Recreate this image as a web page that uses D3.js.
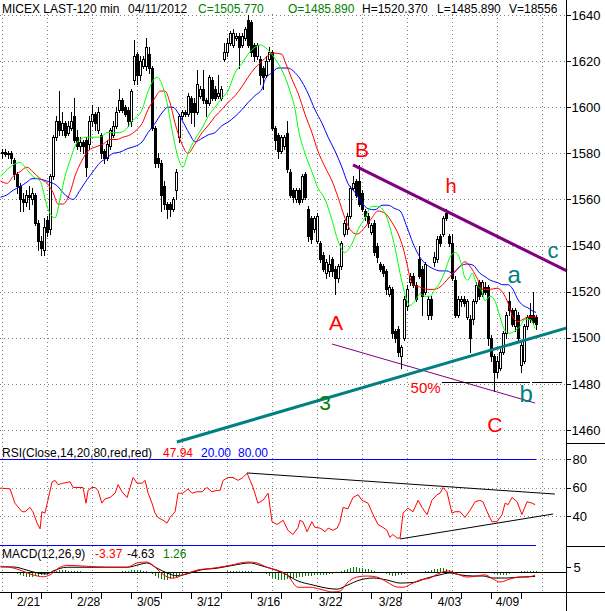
<!DOCTYPE html>
<html><head><meta charset="utf-8">
<script src="https://cdn.jsdelivr.net/npm/d3@7/dist/d3.min.js"></script>
<style>body{margin:0;background:#fff}svg{display:block;font-family:"Liberation Sans",Arial,sans-serif}</style>
</head><body>
<svg id="c" width="605" height="611"></svg>
<script>
// ---------- DATA ----------
// OHLC per 120-min bar: [open, high, low, close]
const candles = [
[1580,1582,1578,1580.5],[1580.5,1582,1579,1579.5],[1579.5,1581,1578,1580],[1580,1581,1576,1578],
[1577,1578,1569,1571],[1571,1572,1563,1566],[1566,1567,1555,1560],[1560,1563,1555,1559],
[1559,1564,1557,1562],[1562,1566,1556,1561],[1560,1565,1558,1563],[1562,1563,1549,1550],
[1550,1551,1538,1542],[1542,1544,1536,1539],[1538,1552,1536,1548],[1551,1553,1544,1546],
[1547,1571,1545,1570],[1570,1588,1569,1587],[1587,1596,1586,1594],[1594,1607,1588,1590],
[1590,1598,1588,1593],[1593,1594,1587,1588],[1589,1594,1588,1592],[1591,1598,1590,1594],
[1596,1604,1585,1586],[1587,1590,1582,1583],[1583,1587,1581,1585],[1585,1586,1580,1583],
[1586,1587,1570,1574],[1584,1596,1582,1594],[1594,1601,1592,1597],[1597,1598,1590,1593],
[1590,1600,1589,1598],[1588,1589,1578,1580],[1581,1582,1576,1578],[1578,1586,1577,1584],
[1583,1591,1582,1590],[1588,1594,1587,1592],[1592,1600,1591,1598],[1599,1608,1598,1603],
[1603,1604,1598,1599],[1600,1601,1596,1597],[1599,1600,1592,1594],[1594,1608,1592,1607],
[1612,1629,1610,1622],[1623,1624,1610,1614],[1614,1622,1612,1620],[1618,1622,1617,1621],
[1618,1630,1616,1626],[1623,1626,1615,1617],[1617,1618,1590,1591],[1591,1592,1574,1576],
[1578,1580,1574,1576],[1576,1577,1555,1562],[1566,1568,1556,1558],[1558,1559,1552,1556],
[1558,1559,1553,1556],[1556,1561,1555,1560],[1564,1573,1560,1572],[1587,1597,1585,1596],
[1596,1599,1595,1598],[1598,1599,1596,1597],[1597,1606,1596,1605],[1604,1605,1593,1598],
[1602,1604,1592,1598],[1598,1616,1597,1610],[1605,1609,1604,1608],[1608,1616,1602,1603],
[1603,1604,1596,1602],[1602,1614,1601,1613],[1612,1613,1603,1604],[1608,1609,1603,1604],
[1605,1614,1604,1606],[1604,1609,1603,1608],[1621,1628,1620,1624],[1624,1630,1622,1628],
[1628,1633,1627,1632],[1627,1634,1626,1632],[1630,1632,1629,1631],[1631,1632,1617,1626],
[1627,1632,1626,1631],[1630,1635,1629,1634],[1638,1640,1626,1627],[1637,1638,1622,1624],
[1627,1628,1620,1622],[1622,1628,1621,1627],[1621,1622,1610,1614],[1617,1618,1608,1613],
[1614,1622,1613,1620],[1621,1626,1620,1624],[1624,1625,1590,1591],[1591,1592,1582,1586],
[1588,1589,1578,1581],[1581,1588,1580,1587],[1583,1588,1582,1587],[1589,1594,1572,1573],
[1572,1573,1561,1562],[1564,1565,1559,1561],[1560,1565,1559,1564],[1564,1565,1558,1559],
[1560,1571,1559,1570],[1571,1572,1560,1561],[1556,1557,1542,1544],[1552,1553,1541,1543],
[1547,1553,1546,1552],[1542,1554,1541,1553],[1541,1542,1533,1534],[1536,1537,1529,1530],
[1528,1534,1526,1533],[1529,1536,1527,1532],[1534,1535,1527,1529],[1530,1531,1519,1526],
[1526,1532,1524,1531],[1531,1542,1530,1541],[1545,1551,1544,1550],[1547,1554,1545,1553],
[1553,1566,1552,1565],[1565,1570,1564,1567],[1568,1569,1561,1562],[1568,1575,1557,1558],
[1563,1564,1555,1556],[1555,1556,1551,1553],[1553,1554,1548,1550],[1546,1550,1545,1549],
[1550,1551,1536,1537],[1540,1541,1533,1535],[1532,1533,1529,1530],[1531,1532,1527,1528],
[1529,1530,1519,1521],[1519,1523,1518,1522],[1521,1522,1500,1502],[1503,1504,1498,1500],
[1504,1505,1492,1494],[1492,1497,1487,1496],[1500,1518,1499,1517],[1514,1523,1512,1521],
[1524,1528,1523,1527],[1527,1528,1522,1523],[1523,1524,1516,1517],[1534,1540,1526,1527],
[1530,1531,1510,1518],[1520,1533,1519,1532],[1510,1518,1508,1517],[1517,1518,1508,1510],
[1533,1537,1531,1535],[1534,1544,1533,1543],[1544,1545,1540,1541],[1545,1553,1544,1552],
[1554,1556,1551,1552],[1544,1545,1540,1541],[1541,1545,1525,1526],[1525,1527,1509,1510],
[1510,1518,1509,1517],[1516,1518,1514,1517],[1517,1518,1514,1515],[1509,1517,1508,1516],
[1508,1510,1494,1500],[1508,1517,1506,1516],[1516,1524,1515,1523],[1524,1525,1517,1518],
[1519,1525,1518,1524],[1522,1524,1519,1520],[1522,1523,1497,1500],[1500,1501,1490,1492],
[1492,1493,1477,1485],[1485,1492,1483,1490],[1487,1495,1486,1494],[1494,1503,1493,1502],
[1502,1511,1500,1510],[1516,1520,1510,1512],[1512,1513,1505,1506],[1505,1513,1503,1512],
[1510,1511,1499,1500],[1488,1498,1485,1497],[1490,1506,1489,1505],[1505,1510,1504,1509],
[1510,1515,1507,1508],[1510,1520,1506,1507],[1509,1510,1504,1505.77]
];
// moving averages: [bar, price]
const maFast = [[-0.5,1570],[6,1576],[8.3,1573],[10.3,1570],[12.7,1568],[13.7,1564],[15,1557],[16,1554],[17.7,1552],[19.3,1560],[21,1570],[22.7,1577],[24.3,1583],[26,1586],[28.3,1587],[30.3,1587],[32.7,1587],[35,1589],[37,1589],[39.3,1589],[41.7,1591],[43.3,1594],[44.3,1595],[46.7,1599],[48.7,1607],[51.7,1613],[53.3,1610],[55,1602],[56.7,1590],[58.3,1580],[60.3,1574],[62,1580],[64.3,1586],[66.7,1591],[68.7,1596],[71,1600],[73.3,1604],[75.3,1607],[77.7,1615],[80,1619],[82,1623],[84.3,1626],[86,1627],[87.7,1626],[89.3,1624],[91,1621],[93.7,1615],[96,1607],[97.7,1599],[98.7,1591],[101,1580],[103.3,1572],[105.3,1565],[107.7,1560],[110,1551],[112,1542],[114.3,1537],[116.7,1541],[118.7,1547],[121,1552],[123.3,1557],[125.3,1557],[127.7,1554],[129.3,1548],[131,1539],[132.7,1528],[133.7,1522],[135,1516],[136,1514],[137.7,1516],[139.3,1519],[141,1518],[142.7,1518],[144.3,1521],[146,1524],[147.7,1529],[149.3,1535],[151,1537],[152,1536],[153.3,1531],[154.3,1526],[155.3,1525],[156.7,1528],[158.3,1523],[160,1520],[161,1516],[162.7,1518],[164.3,1516],[166,1509],[167.7,1503],[169.3,1502],[171,1503],[172.7,1505],[174.3,1508],[176,1508],[177.7,1504]];
const maMid = [[-0.5,1568],[1.7,1567],[3.7,1570],[6,1572],[8.3,1574],[10.3,1572],[12.7,1569],[15,1567],[17,1563],[18.7,1558],[20.3,1558],[22.7,1563],[24.3,1570],[26.7,1577],[28.7,1581],[31.7,1583],[33.7,1584],[36,1586],[38.3,1586],[40.3,1587],[42.7,1588],[44.3,1589.5],[46.7,1593],[48.7,1599],[51,1604],[52.7,1607],[54.3,1607],[56,1602],[57.7,1593],[60,1584],[62,1580],[64.3,1584],[66.7,1589],[68.7,1592],[71,1596],[73.3,1599],[75.3,1602],[77.7,1605],[80,1609],[82,1613],[84.3,1617],[86.7,1620],[88.3,1622],[90.3,1623.5],[93.3,1623],[94.3,1620],[96.7,1612],[98.7,1606],[101,1597],[103.3,1589],[105.3,1581],[107.7,1574],[110,1568],[112,1561],[114.3,1552],[116,1547],[118.3,1545],[121,1548],[123.3,1552],[125.3,1555],[127.7,1554],[130,1550],[132.7,1543],[133.7,1539],[135,1532],[136,1526],[137,1523],[139.3,1522],[141.7,1521],[143.7,1521],[146,1522],[148.3,1525],[150.3,1528],[152.7,1531],[154.3,1533],[156,1531],[158.3,1526],[160.3,1521],[162.7,1521],[165,1521.5],[167,1519.5],[168.7,1515],[170.3,1509],[172,1507],[173.7,1508],[175.3,1509],[177,1509],[178,1509]];
const maSlow = [[-0.5,1561],[1.7,1562],[3.7,1564],[6,1565.5],[8.3,1567.5],[10,1569],[11.7,1569],[13.7,1568.5],[16,1567.5],[18.3,1566],[20.3,1563],[22,1561],[23.7,1560],[26,1564],[28.3,1568.5],[30.3,1572],[32.7,1576],[35,1578],[37,1580],[39.3,1580.5],[41.7,1582],[44.3,1583],[46.7,1585],[48.7,1589],[51,1593],[53.3,1597.5],[55.3,1600],[57,1600],[58.7,1597.5],[61,1592],[62.7,1588],[64.3,1585],[66.7,1586.5],[68.7,1588],[71,1589],[73.3,1592],[75.3,1593.5],[77.7,1596],[80,1599],[82,1602],[84.3,1605],[86.7,1608],[87.7,1612],[90,1615],[92,1617],[95.3,1617],[97.7,1615],[100,1611],[102,1606],[104.3,1599],[106.7,1593],[108.7,1587],[111,1581],[113.3,1574],[115.3,1567],[117.7,1563],[120,1558.5],[122,1556],[124.3,1555.5],[126.7,1557.5],[128.7,1557.5],[131,1556],[132.7,1555],[135,1548],[137,1541],[139.3,1535],[141.7,1531.5],[143.7,1530],[146,1529],[148.3,1529],[150.3,1528],[152.7,1531],[155,1532],[157,1531.5],[159.3,1528],[161,1526.5],[162.7,1525],[165,1524],[167,1523],[168.7,1523],[170.3,1521],[172,1516.5],[173.7,1514],[175.3,1513],[177,1511.5],[178,1511]];
// RSI(14): [bar, value]
const rsi = [[-0.5,59.6],[2.7,59],[4.3,49],[6.7,43],[7.7,43],[9.3,46],[10.3,43],[11.7,35],[12.7,31],[13.3,43],[14.3,42],[15.3,51],[16.7,64],[17.7,65],[18.7,62],[20.3,63],[22.7,64],[23.7,60],[25.3,60],[27,60],[28,49],[28.7,58],[30,60],[31,60],[32,58],[33.3,49],[34.3,52],[36,53],[37.7,56],[38.7,62],[40,57],[41.7,53],[42.7,60],[43.7,67],[45,63],[46.7,63],[47.7,65],[48.7,56],[50,49],[51,42],[52,39],[53.7,37],[55,35],[56,39],[57.7,43],[58.7,56],[60.3,56],[62,59],[63.3,56],[65,57],[66.7,57],[68.3,60],[70,57],[71.7,58],[72.7,58],[73.7,65],[75.3,67],[77,67],[78.7,65],[80.3,67],[81.7,70],[82.7,65],[83.7,60],[85.3,49],[87,51],[88.7,56],[90,36],[91.7,34],[93.7,37],[95.3,30],[97,27],[98.7,32],[99.3,37],[100.3,36],[101.7,29],[103.3,36],[104.3,32],[106,31.5],[107.7,29],[108.7,31.5],[110.3,30],[111.7,31.5],[112.7,36],[113.7,46],[115.3,45],[117,53],[118.7,55],[120,51],[122,49],[123.7,41],[125.3,34],[127,32],[128.3,30],[129.3,25],[130.3,27],[131.7,24.5],[132.7,24.5],[133.7,42],[135.3,45.5],[137,43],[138.7,51],[140,46],[141.7,41],[143.3,51],[145,55],[146,56],[147,60],[148.3,57],[150,42],[151,43],[152.7,43],[154.3,39],[156,44],[157.7,50],[159.3,51],[160.3,50],[161.7,43],[163.3,36],[165,36],[166.7,41],[167.7,49],[168.7,48],[170,53],[171.7,50],[173.3,41],[175,50],[176.7,49],[177.7,47.94]];
// MACD(12,26,9): [bar, value]
const macdLine = [[-0.5,6],[2.7,5],[6,2],[10.3,-3],[13.7,-5],[16,-3],[19.3,5],[21.7,7],[28.3,6],[35,5],[41.7,5],[45,9.5],[48.3,10.5],[50.3,7],[52.7,0],[55,-5],[57,-6.5],[60.3,-3],[65,2],[70.3,4],[76,7],[82,10.5],[85,9.5],[88.3,5],[91.7,2],[95,-3],[98.7,-16],[102.7,-16],[106,-18],[110.3,-21],[112.7,-20],[115,-11.6],[118.3,-5.3],[121.7,-4.2],[125,-5.3],[128.3,-10.5],[131.7,-15.8],[133.7,-16],[137,-11.6],[139.3,-8.4],[142.7,-6.3],[146,-1],[148.7,1],[151.7,-2],[155,-5.3],[158.3,-4.2],[161,-3],[163.7,-7.4],[166,-10.5],[169.3,-7.4],[172.7,-5.3],[175,-5.3],[177.7,-3.37]];
const signalLine = [[-0.5,5.3],[3.7,5.3],[8.3,2],[11.7,-1],[15,-2],[17,1],[21.7,5],[28.3,5],[35,5],[41.7,5],[46,8],[48.3,9.5],[51.7,4],[55,-1],[58.3,-4],[61.7,-2],[66,2],[71.7,4],[77,7],[82.7,9.5],[86,7],[89.3,4],[93.7,-1],[98.7,-9.5],[103.7,-13.7],[108.3,-17],[111.7,-18],[115,-14],[119.3,-8.4],[123.7,-6.3],[128.3,-8.4],[132.7,-11.6],[137,-11],[141.7,-6.3],[146,-3],[149.3,-1],[152.7,-3],[157,-4.2],[160.3,-4.2],[163.7,-6.3],[168.3,-6.3],[172.7,-5.3],[177.7,-4.63]];
const histogram = [0.5,0.3,0,-0.5,
-1.5,-2.5,-3.5,-4.5,-5,-5,-5,-4.5,-4,-3.5,-3,-2,-1,
0.5,1.5,2,2,2,1.5,1.5,1,1,
1,0.5,0.5,0.5,0.5,0.5,0,0,0,0,0,0,0.5,0.5,1,1,1.5,2,2.5,
2.5,2,1.5,1,0,
-2,-4,-6,-7,-8,-8,-7,-6,-5,-3,-2,-1,
0,0.5,0.5,0.5,0.5,0.5,0.5,0.5,0.5,0.5,0.5,0.5,0.5,1,1,1,1,1.5,1.5,1.5,1,1,0.5,0,-0.5,
-1.5,-2.5,-4,-6,-7,-8,-8,-8,-7.5,-7,-6.5,-6,-5.5,
-5,-4.5,-4,-4,-3.5,-3.5,-3,-3,-3,-2.5,-2,-1.5,-0.5,
1,2.5,3.5,4.5,5,5,4.5,4,3.5,3,2,1.5,
0.5,-0.5,-1.5,-2.5,-3.5,-4,-4,-3.5,-3,
-2,-1,-0.5,0,0.5,0.5,0.5,1,1.5,2,
3,3.5,4,4,3.5,2.5,1.5,
0.5,-0.5,-1,-1.5,-1.5,-1.5,-1,-1,-0.5,0,
0.5,0,-1,-2,
-3,-3.5,-3.5,-3,-2,-1,
0,0.5,1,1,1,1.5,1.5,1.3];
const priceTicks = [1640,1620,1600,1580,1560,1540,1520,1500,1480,1460];
const rsiTicks = [80,60,40];
const macdTicks = [5];
const dateLabels = ["2/21","2/28","3/05","3/12","3/16","3/22","3/28","4/03","4/09"];
const dateBars = [8.7,28.7,48.7,68.7,88.7,109.3,129.3,149,168.3];
const gridBars = [0,15,30,45,60,75,90,105,120,135,150,165,180];
// drawn trend lines: [bar, price]
const lineBC = [[117,1575],[188.3,1529]];
const line3 = [[58.3,1454.8],[188.3,1504.3]];
const lineAC = [[110,1497.3],[177.7,1471.7]];
const level1480a = [[146.7,1480.8],[176,1480.8]];
const level1480b = [[176.7,1480.8],[186.7,1480.8]];
const rsiUpper = [[81.7,70.2],[184.3,55.4]];
const rsiLower = [[132.7,23.9],[183.7,41.4]];

// ---------- DRAW ----------
const svg = d3.select('#c');
const W = 605, AX = 566;
const x = d3.scaleLinear().domain([0,178]).range([2,536]);
const y = d3.scaleLinear().domain([1460,1640]).range([430,15]);
const yR = d3.scaleLinear().domain([20,80]).range([544.5,459]);
const yM = d3.scaleLinear().domain([-21,0]).range([592,572]);
const px = v => Math.round(v) + 0.5;

const grid = svg.append('g').attr('stroke','#808080').attr('stroke-dasharray','1,3').attr('shape-rendering','crispEdges');
priceTicks.forEach(v => grid.append('line').attr('x1',0).attr('x2',AX).attr('y1',px(y(v))).attr('y2',px(y(v))));
[60,40].forEach(v => grid.append('line').attr('x1',0).attr('x2',AX).attr('y1',px(yR(v))).attr('y2',px(yR(v))));
grid.append('line').attr('x1',536).attr('x2',AX).attr('y1',px(yR(80))).attr('y2',px(yR(80)));
gridBars.forEach(b => grid.append('line').attr('x1',px(x(b))).attr('x2',px(x(b))).attr('y1',14).attr('y2',592));

// RSI bands
const bands = svg.append('g').attr('stroke','#0000ff').attr('shape-rendering','crispEdges');
[80,20].forEach(v => bands.append('line').attr('x1',0).attr('x2',536).attr('y1',px(yR(v))).attr('y2',px(yR(v))));

// candles
const cg = svg.append('g').attr('shape-rendering','crispEdges');
candles.forEach((d,i) => {
  const cx = Math.round(x(i));
  const [o,h,l,c] = d;
  cg.append('line').attr('x1',cx+0.5).attr('x2',cx+0.5).attr('y1',Math.round(y(h))).attr('y2',Math.round(y(l))+1).attr('stroke','#000');
  const top = Math.round(y(Math.max(o,c))), bot = Math.max(Math.round(y(Math.min(o,c))), top+1);
  cg.append('rect').attr('x',cx-0.5).attr('y',top+0.5).attr('width',2).attr('height',bot-top)
    .attr('fill', c>=o ? '#fff' : '#000').attr('stroke','#000');
});

// moving averages
const lineP = d3.line().x(d=>x(d[0])).y(d=>y(d[1])).curve(d3.curveMonotoneX);
[[maSlow,'#0000ff'],[maMid,'#ff0000'],[maFast,'#00ff00']].forEach(([d,col]) =>
  svg.append('path').attr('d',lineP(d)).attr('fill','none').attr('stroke',col).attr('stroke-width',1));

// trend lines
const straight = d3.line().x(d=>x(d[0])).y(d=>y(d[1]));
svg.append('path').attr('d',straight(lineBC)).attr('stroke','#800080').attr('stroke-width',3);
svg.append('path').attr('d',straight(lineAC)).attr('stroke','#800080').attr('stroke-width',1);
svg.append('path').attr('d',straight(line3)).attr('stroke','#008080').attr('stroke-width',3);
[level1480a,level1480b].forEach(s => svg.append('path').attr('d',straight(s)).attr('stroke','#000').attr('stroke-width',1).attr('shape-rendering','crispEdges'));

// annotation letters
const notes = [
  {t:'B',b:120,p:1578.4,c:'#ff0000',s:21},
  {t:'h',b:149.7,p:1562.8,c:'#ff0000',s:20},
  {t:'c',b:183.7,p:1534.6,c:'#008080',s:22},
  {t:'a',b:170.7,p:1523.8,c:'#008080',s:24},
  {t:'A',b:111.3,p:1503.4,c:'#ff0000',s:21},
  {t:'50%',b:141.2,p:1476,c:'#ff0000',s:15},
  {t:'b',b:174.7,p:1472.2,c:'#008080',s:24},
  {t:'C',b:164.3,p:1459.2,c:'#ff0000',s:21},
  {t:'3',b:107.7,p:1468.7,c:'#008000',s:21}
];
notes.forEach(n => svg.append('text').attr('x',x(n.b)).attr('y',y(n.p)).attr('text-anchor','middle')
  .attr('fill',n.c).attr('font-size',n.s).text(n.t));

// RSI
const lineR = d3.line().x(d=>x(d[0])).y(d=>yR(d[1]));
svg.append('path').attr('d',lineR(rsi)).attr('fill','none').attr('stroke','#ff0000').attr('stroke-width',1);
[rsiUpper,rsiLower].forEach(s => svg.append('path').attr('d',lineR(s)).attr('stroke','#000').attr('stroke-width',1));

// MACD
const hg = svg.append('g').attr('stroke','#008000').attr('shape-rendering','crispEdges');
histogram.forEach((v,i) => { if (v!==0) hg.append('line').attr('x1',px(x(i))).attr('x2',px(x(i))).attr('y1',yM(0)).attr('y2',yM(v)); });
svg.append('line').attr('x1',0).attr('x2',AX).attr('y1',px(yM(0))).attr('y2',px(yM(0))).attr('stroke','#000').attr('shape-rendering','crispEdges');
const lineM = d3.line().x(d=>x(d[0])).y(d=>yM(d[1])).curve(d3.curveMonotoneX);
svg.append('path').attr('d',lineM(signalLine)).attr('fill','none').attr('stroke','#000');
svg.append('path').attr('d',lineM(macdLine)).attr('fill','none').attr('stroke','#ff0000');

// axes frame
const frame = svg.append('g').attr('stroke','#000').attr('shape-rendering','crispEdges');
frame.append('line').attr('x1',AX+0.5).attr('x2',AX+0.5).attr('y1',0).attr('y2',611);
frame.append('line').attr('x1',0).attr('x2',W).attr('y1',592.5).attr('y2',592.5);
frame.append('line').attr('x1',AX).attr('x2',W).attr('y1',443.5).attr('y2',443.5);
frame.append('line').attr('x1',AX).attr('x2',W).attr('y1',546.5).attr('y2',546.5);

function styleAxis(g){ g.select('.domain').remove(); g.selectAll('text').attr('fill','#000').attr('font-size',13).attr('font-family','"Liberation Sans",Arial,sans-serif'); g.selectAll('line').attr('stroke','#000').attr('shape-rendering','crispEdges'); }
svg.append('g').attr('transform',`translate(${AX+0.5},0)`).call(d3.axisRight(y).tickValues(priceTicks).tickSize(4).tickPadding(1).tickFormat(d3.format('d'))).call(styleAxis);
svg.append('g').attr('transform',`translate(${AX+0.5},0)`).call(d3.axisRight(yR).tickValues(rsiTicks).tickSize(4).tickPadding(2)).call(styleAxis);
svg.append('g').attr('transform',`translate(${AX+0.5},0)`).call(d3.axisRight(yM).tickValues(macdTicks).tickSize(4).tickPadding(3).tickFormat(()=> '5')).call(styleAxis);
const xa = svg.append('g').attr('transform','translate(0,592)').call(d3.axisBottom(x).tickValues(dateBars).tickSize(0).tickPadding(5).tickFormat((d,i)=>dateLabels[i])).call(styleAxis);
xa.selectAll('text').attr('font-size',12);
const tk = svg.append('g').attr('stroke','#000').attr('shape-rendering','crispEdges');
d3.range(3,180,10).forEach(b => tk.append('line').attr('x1',px(x(b))).attr('x2',px(x(b))).attr('y1',592).attr('y2',599));

// headers
function hdr(yy, parts){ const t = svg.append('text').attr('y',yy).attr('font-size',12).attr('xml:space','preserve');
  parts.forEach(([s,col,xx]) => t.append('tspan').attr('x',xx).attr('fill',col).text(s)); }
hdr(13,[['MICEX LAST-120 min','#000',2],['04/11/2012','#000',128],['C=1505.770','#008000',198],['O=1485.890','#008000',288],['H=1520.370','#000',362],['L=1485.890','#000',437],['V=18556','#000',509]]);
hdr(457,[['RSI(Close,14,20,80,red,red)','#000',2],['47.94','#ff0000',163],['20.00','#0000ff',201],['80.00','#0000ff',238]]);
hdr(558,[['MACD(12,26,9)','#000',2],['-3.37','#ff0000',95],['-4.63','#000',127],['1.26','#008000',163]]);
</script>
</body></html>
